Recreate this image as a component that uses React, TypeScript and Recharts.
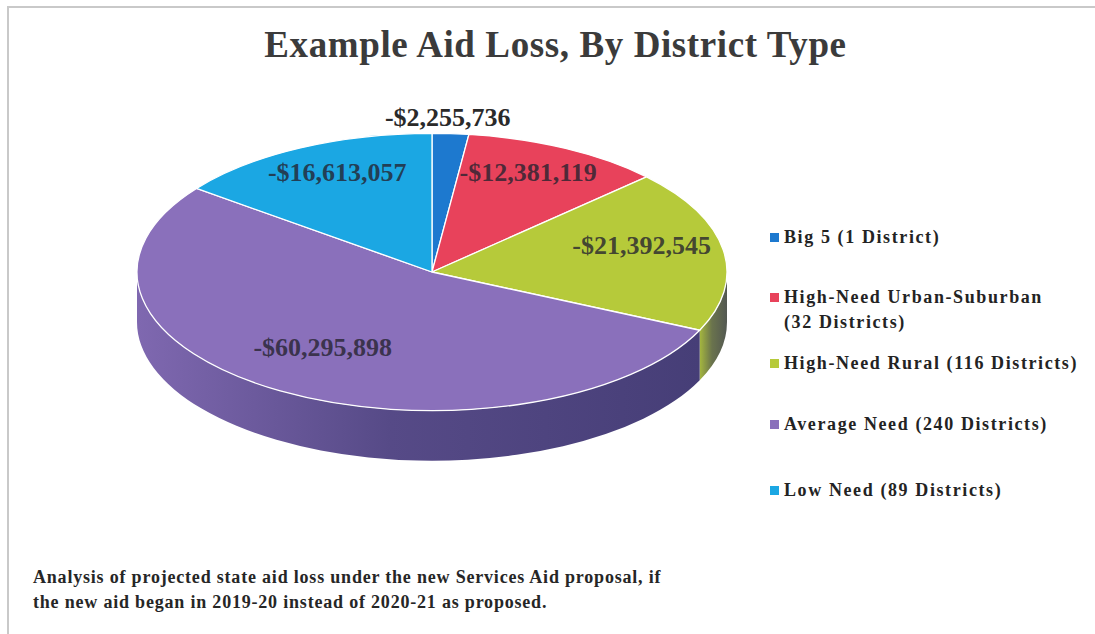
import React from 'react';
import { PieChart, Pie, Cell, Legend } from 'recharts';

const categories = [
  'Big 5 (1 District)',
  'High-Need Urban-Suburban (32 Districts)',
  'High-Need Rural (116 Districts)',
  'Average Need (240 Districts)',
  'Low Need (89 Districts)',
];
const losses = [2255736, 12381119, 21392545, 60295898, 16613057];
const lossLabels = ['-$2,255,736', '-$12,381,119', '-$21,392,545', '-$60,295,898', '-$16,613,057'];
const sliceColors = ['#1d79cf', '#e8425b', '#b6ca3a', '#8a70bb', '#1ba7e3'];

const data = categories.map((name, i) => ({ name, value: losses[i] }));

const RAD = Math.PI / 180;
const TILT = 0.47;
const DEPTH = 50;
const SERIF = '"Liberation Serif", "DejaVu Serif", serif';
const legendRowTops = [0, 60, 126, 187, 253];

function mix(hex: string, target: string, t: number) {
  const a = parseInt(hex.slice(1), 16);
  const b = parseInt(target.slice(1), 16);
  const ch = (v: number, s: number) => (v >> s) & 255;
  const m = (s: number) => Math.round(ch(a, s) * (1 - t) + ch(b, s) * t);
  return `rgb(${m(16)},${m(8)},${m(0)})`;
}

function Slice3D(props: any) {
  const { cx, cy, outerRadius, startAngle, endAngle, fill, index } = props;
  const rx = outerRadius;
  const ry = outerRadius * TILT;
  const pt = (a: number, dy = 0) => `${cx + rx * Math.cos(a * RAD)},${cy - ry * Math.sin(a * RAD) + dy}`;

  const delta = endAngle - startAngle;
  const sweep = delta < 0 ? 1 : 0;
  const large = Math.abs(delta) > 180 ? 1 : 0;
  const top = `M${cx},${cy} L${pt(startAngle)} A${rx},${ry} 0 ${large} ${sweep} ${pt(endAngle)} Z`;

  // front wall: part of the slice in the lower half of the ellipse
  const lo = Math.min(startAngle, endAngle);
  const hi = Math.max(startAngle, endAngle);
  const sides: React.ReactNode[] = [];
  for (let k = -2; k <= 1; k++) {
    const b0 = Math.max(lo, -180 + 360 * k);
    const b1 = Math.min(hi, 360 * k);
    if (b1 - b0 > 0.01) {
      const d = `M${pt(b0)} A${rx},${ry} 0 0 0 ${pt(b1)} L${pt(b1, DEPTH)} A${rx},${ry} 0 0 1 ${pt(b0, DEPTH)} Z`;
      sides.push(<path key={k} d={d} fill={`url(#side-${index})`} />);
    }
  }

  return (
    <g>
      {sides}
      <path d={top} fill={fill} stroke="#ffffff" strokeWidth={1.3} strokeLinejoin="round" />
    </g>
  );
}

function renderLabel(props: any) {
  const { cx, cy, midAngle, outerRadius, percent, index } = props;
  const outside = percent < 0.05;
  const r = outside ? 1.12 : 0.72;
  const x = cx + outerRadius * r * Math.cos(midAngle * RAD);
  const y = cy - outerRadius * TILT * r * Math.sin(midAngle * RAD) - (outside ? 0 : 10);
  return (
    <text
      key={`lbl-${index}`}
      x={x - (outside ? 5 : 0)}
      y={y}
      textAnchor="middle"
      dominantBaseline="central"
      fontFamily={SERIF}
      fontWeight="bold"
      fontSize={26}
      fill={outside ? '#2a2a2a' : '#25232f'}
      fillOpacity={outside ? 1 : 0.8}
    >
      {lossLabels[index]}
    </text>
  );
}

function renderLegend() {
  return (
    <div style={{ position: 'relative', height: 290, fontFamily: SERIF }}>
      {categories.map((name, i) => {
        const cut = name.length > 32 ? name.lastIndexOf(' (') : -1;
        return (
          <div
            key={name}
            style={{
              position: 'absolute',
              top: legendRowTops[i],
              left: 0,
              display: 'flex',
              alignItems: 'flex-start',
              fontSize: 18,
              fontWeight: 'bold',
              letterSpacing: 1.6,
              lineHeight: '25px',
              color: '#232323',
              whiteSpace: 'nowrap',
            }}
          >
            <span style={{ width: 9, height: 9, background: sliceColors[i], marginTop: 8, marginRight: 5, flex: 'none' }} />
            <span>
              {cut > 0 ? (
                <>
                  {name.slice(0, cut)}
                  <br />
                  {name.slice(cut + 1)}
                </>
              ) : (
                name
              )}
            </span>
          </div>
        );
      })}
    </div>
  );
}

export default function App() {
  return (
    <div style={{ position: 'absolute', left: 0, top: 0, width: 1095, height: 634, background: '#fff', overflow: 'hidden' }}>
      <div
        style={{
          position: 'absolute',
          left: 7,
          top: 6,
          width: 1100,
          height: 640,
          borderTop: '2px solid #c9c9c9',
          borderLeft: '2px solid #c9c9c9',
        }}
      />
      <div
        style={{
          position: 'absolute',
          left: 0,
          top: 23,
          width: 1111,
          textAlign: 'center',
          fontFamily: SERIF,
          fontWeight: 'bold',
          fontSize: 37,
          letterSpacing: 0.6,
          color: '#3b3b3b',
        }}
      >
        Example Aid Loss, By District Type
      </div>
      <PieChart width={1095} height={634} margin={{ top: 0, right: 0, bottom: 0, left: 0 }}>
        <defs>
          {sliceColors.map((c, i) => (
            <linearGradient key={i} id={`side-${i}`} x1="0" y1="0" x2="1" y2="0">
              <stop offset="0" stopColor={mix(c, '#2c2b5c', 0.12)} />
              <stop offset="0.45" stopColor={mix(c, '#2c2b5c', 0.55)} />
              <stop offset="1" stopColor={mix(c, '#2c2b5c', 0.72)} />
            </linearGradient>
          ))}
        </defs>
        <Pie
          data={data}
          dataKey="value"
          nameKey="name"
          cx={432}
          cy={272}
          outerRadius={295}
          startAngle={90}
          endAngle={-270}
          stroke="#ffffff"
          label={renderLabel}
          labelLine={false}
          shape={Slice3D}
          inactiveShape={Slice3D}
          activeShape={Slice3D}
          isAnimationActive={false}
        >
          {data.map((d, i) => (
            <Cell key={d.name} fill={sliceColors[i]} />
          ))}
        </Pie>
        <Legend
          layout="vertical"
          align="right"
          verticalAlign="top"
          content={renderLegend}
          wrapperStyle={{ left: 770, top: 225, width: 325 }}
        />
      </PieChart>
      <div
        style={{
          position: 'absolute',
          left: 33,
          top: 565,
          fontFamily: SERIF,
          fontWeight: 'bold',
          fontSize: 18,
          letterSpacing: 0.8,
          lineHeight: '25px',
          color: '#262626',
        }}
      >
        Analysis of projected state aid loss under the new Services Aid proposal, if
        <br />
        the new aid began in 2019-20 instead of 2020-21 as proposed.
      </div>
    </div>
  );
}
